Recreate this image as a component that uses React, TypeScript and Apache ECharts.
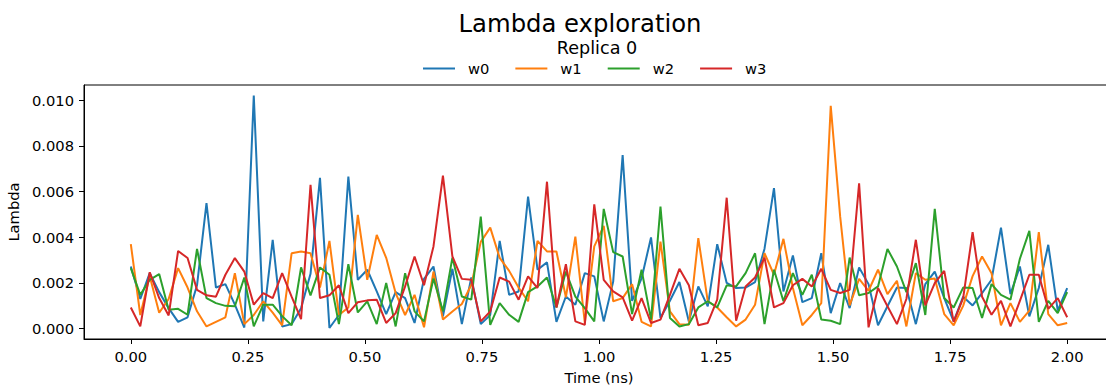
import React, { useEffect, useRef } from "react";
import * as echarts from "echarts";

// time axis: 100 frames from 0 to 2 ns (linspace)
const N_POINTS = 100;
const T_END = 2.0;
const TIME = Array.from({ length: N_POINTS }, (_, i) => (i * T_END) / (N_POINTS - 1));

const SERIES_NAMES = ["w0", "w1", "w2", "w3"];
const COLORS = ["#1f77b4", "#ff7f0e", "#2ca02c", "#d62728"];

const X_TICKS = [0, 0.25, 0.5, 0.75, 1.0, 1.25, 1.5, 1.75, 2.0];
const Y_TICKS = [0, 0.002, 0.004, 0.006, 0.008, 0.01];

const W0 = [0.00272,0.00130,0.00243,0.00160,0.00090,0.00030,0.00050,0.00190,0.00549,0.00180,
0.00195,0.00105,0.00005,0.01020,0.00032,0.00389,0.00010,0.00020,0.00090,0.00240,
0.00660,0.00003,0.00060,0.00665,0.00214,0.00258,0.00163,0.00064,0.00160,0.00134,
0.00025,0.00218,0.00272,0.00054,0.00262,0.00020,0.00224,0.00020,0.00060,0.00384,
0.00148,0.00163,0.00578,0.00258,0.00290,0.00030,0.00141,0.00105,0.00243,0.00229,
0.00032,0.00206,0.00760,0.00122,0.00220,0.00399,0.00047,0.00122,0.00204,0.00032,
0.00185,0.00098,0.00370,0.00200,0.00178,0.00180,0.00204,0.00350,0.00615,0.00163,
0.00320,0.00116,0.00134,0.00330,0.00068,0.00200,0.00090,0.00268,0.00195,0.00015,
0.00098,0.00180,0.00178,0.00020,0.00195,0.00250,0.00134,0.00032,0.00140,0.00102,
0.00156,0.00214,0.00442,0.00151,0.00272,0.00054,0.00178,0.00367,0.00079,0.00178];

const W1 = [0.00370,0.00060,0.00230,0.00070,0.00130,0.00265,0.00180,0.00076,0.00010,0.00030,
0.00050,0.00243,0.00020,0.00060,0.00120,0.00070,0.00015,0.00330,0.00338,0.00330,
0.00180,0.00384,0.00060,0.00093,0.00498,0.00214,0.00410,0.00310,0.00156,0.00060,
0.00148,0.00006,0.00250,0.00040,0.00075,0.00108,0.00192,0.00380,0.00442,0.00310,
0.00253,0.00180,0.00120,0.00384,0.00338,0.00338,0.00137,0.00403,0.00025,0.00360,
0.00450,0.00120,0.00134,0.00195,0.00030,0.00010,0.00381,0.00076,0.00020,0.00017,
0.00396,0.00120,0.00093,0.00050,0.00010,0.00040,0.00105,0.00330,0.00236,0.00393,
0.00178,0.00015,0.00060,0.00112,0.00975,0.00490,0.00102,0.00218,0.00166,0.00258,
0.00151,0.00210,0.00010,0.00243,0.00214,0.00220,0.00064,0.00015,0.00100,0.00230,
0.00316,0.00243,0.00015,0.00112,0.00030,0.00079,0.00422,0.00064,0.00015,0.00025];

const W2 = [0.00265,0.00148,0.00214,0.00239,0.00083,0.00087,0.00061,0.00349,0.00134,0.00112,
0.00100,0.00098,0.00224,0.00010,0.00105,0.00105,0.00055,0.00015,0.00268,0.00146,
0.00268,0.00236,0.00020,0.00282,0.00071,0.00120,0.00020,0.00200,0.00010,0.00243,
0.00076,0.00032,0.00220,0.00076,0.00311,0.00141,0.00127,0.00490,0.00017,0.00112,
0.00061,0.00030,0.00160,0.00185,0.00224,0.00093,0.00250,0.00140,0.00090,0.00032,
0.00524,0.00335,0.00316,0.00064,0.00258,0.00040,0.00534,0.00047,0.00010,0.00020,
0.00093,0.00120,0.00093,0.00190,0.00185,0.00243,0.00330,0.00020,0.00258,0.00120,
0.00243,0.00148,0.00236,0.00040,0.00035,0.00020,0.00311,0.00146,0.00156,0.00185,
0.00349,0.00272,0.00160,0.00287,0.00060,0.00524,0.00134,0.00093,0.00180,0.00178,
0.00047,0.00195,0.00148,0.00127,0.00306,0.00428,0.00030,0.00122,0.00068,0.00160];

const W3 = [0.00093,0.00010,0.00247,0.00134,0.00058,0.00340,0.00309,0.00170,0.00146,0.00140,
0.00236,0.00309,0.00250,0.00105,0.00156,0.00134,0.00243,0.00140,0.00042,0.00629,
0.00134,0.00146,0.00190,0.00068,0.00116,0.00124,0.00127,0.00025,0.00068,0.00185,
0.00316,0.00190,0.00360,0.00670,0.00316,0.00218,0.00214,0.00032,0.00075,0.00224,
0.00206,0.00127,0.00229,0.00178,0.00643,0.00093,0.00282,0.00032,0.00017,0.00544,
0.00214,0.00163,0.00137,0.00035,0.00134,0.00025,0.00040,0.00148,0.00262,0.00190,
0.00015,0.00025,0.00127,0.00573,0.00035,0.00185,0.00224,0.00311,0.00093,0.00112,
0.00190,0.00218,0.00185,0.00262,0.00170,0.00156,0.00170,0.00636,0.00006,0.00178,
0.00098,0.00020,0.00130,0.00389,0.00102,0.00199,0.00253,0.00030,0.00134,0.00422,
0.00140,0.00061,0.00122,0.00010,0.00122,0.00236,0.00236,0.00087,0.00134,0.00050];

const VALUES = [W0, W1, W2, W3];

const FONT = "DejaVu Sans";

export default function App() {
  const ref = useRef<HTMLDivElement>(null);
  useEffect(() => {
    if (!ref.current) return;
    const chart = echarts.init(ref.current, null, { renderer: "svg" });
    const option: any = {
      animation: false,
      backgroundColor: "#ffffff",
      textStyle: { fontFamily: FONT, color: "#000" },
      graphic: [
        {
          type: "text",
          x: 580,
          y: 23,
          style: {
            text: "Lambda exploration",
            fontFamily: FONT,
            fontSize: 24.3,
            fill: "#000",
            textAlign: "center",
            textVerticalAlign: "middle",
          },
        },
        {
          type: "text",
          x: 597,
          y: 48,
          style: {
            text: "Replica 0",
            fontFamily: FONT,
            fontSize: 17.6,
            fill: "#000",
            textAlign: "center",
            textVerticalAlign: "middle",
          },
        },
      ],
      legend: {
        data: SERIES_NAMES.map((name, k) => ({ name, icon: "rect", itemStyle: { color: COLORS[k] } })),
        left: 418,
        top: 56,
        itemWidth: 32,
        itemHeight: 2,
        itemGap: 26,
        textStyle: { fontFamily: FONT, fontSize: 14.7, color: "#000", padding: [0, 0, 0, 8] },
      },
      grid: {
        left: 84,
        top: 85,
        width: 1030,
        height: 254,
        show: true,
        borderColor: "#000",
        borderWidth: 1,
        backgroundColor: "transparent",
        containLabel: false,
        outerBoundsMode: "none",
      },
      xAxis: {
        type: "value",
        min: -0.1,
        max: 2.1,
        name: "Time (ns)",
        nameLocation: "middle",
        nameGap: 31,
        nameTextStyle: { fontFamily: FONT, fontSize: 14.7, color: "#000" },
        axisLine: { show: true, onZero: false, lineStyle: { color: "#000", width: 1 } },
        axisTick: { show: true, length: 5, lineStyle: { color: "#000" }, customValues: X_TICKS },
        axisLabel: {
          fontFamily: FONT,
          fontSize: 14.7,
          color: "#000",
          margin: 10,
          customValues: X_TICKS,
          formatter: (v: number) => v.toFixed(2),
        },
        splitLine: { show: false },
      },
      yAxis: {
        type: "value",
        min: -0.00045,
        max: 0.01066,
        name: "Lambda",
        nameLocation: "middle",
        nameGap: 58,
        nameRotate: 90,
        nameTextStyle: { fontFamily: FONT, fontSize: 14.7, color: "#000" },
        axisLine: { show: true, onZero: false, lineStyle: { color: "#000", width: 1 } },
        axisTick: { show: true, length: 5, lineStyle: { color: "#000" }, customValues: Y_TICKS },
        axisLabel: {
          fontFamily: FONT,
          fontSize: 14.7,
          color: "#000",
          margin: 10,
          customValues: Y_TICKS,
          formatter: (v: number) => v.toFixed(3),
        },
        splitLine: { show: false },
      },
      series: SERIES_NAMES.map((name, k) => ({
        name,
        type: "line",
        data: TIME.map((t, i) => [t, VALUES[k][i]]),
        symbol: "none",
        showSymbol: false,
        clip: true,
        lineStyle: { color: COLORS[k], width: 2 },
        itemStyle: { color: COLORS[k] },
      })),
    };
    chart.setOption(option);
    return () => chart.dispose();
  }, []);
  return (
    <div
      ref={ref}
      style={{ position: "absolute", left: 0, top: 0, width: 1106, height: 386, background: "#fff" }}
    />
  );
}
